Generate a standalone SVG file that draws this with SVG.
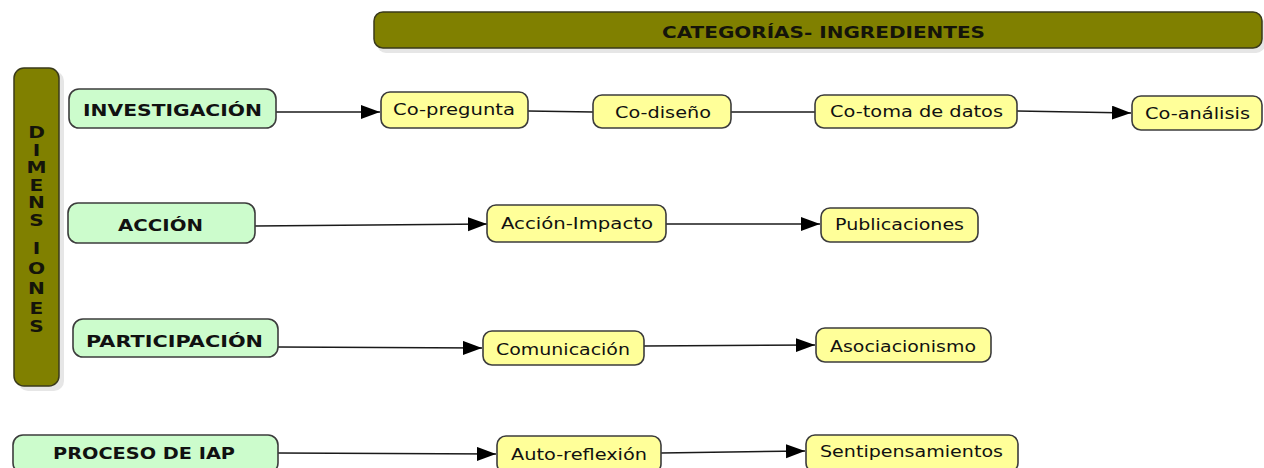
<svg xmlns="http://www.w3.org/2000/svg" width="1264" height="468" viewBox="0 0 1264 468">
<defs>
<style>
.bar{fill:#808000;stroke:#3a3a1a;stroke-width:1.5}
.shadow{fill:#e6e6e6}
.g{fill:#ccfccc;stroke:#3c3c3c;stroke-width:1.6}
.y{fill:#ffff99;stroke:#3c3c3c;stroke-width:1.6}
.tb{font-family:"DejaVu Sans",Verdana,sans-serif;font-weight:bold;font-size:15.5px;fill:#111}
.ty{font-family:"DejaVu Sans",Verdana,sans-serif;font-size:15.5px;fill:#111}
.tt{font-family:"DejaVu Sans",Verdana,sans-serif;font-weight:bold;font-size:16px;fill:#14140a}
.tv{font-family:"DejaVu Sans",Verdana,sans-serif;font-weight:bold;font-size:15.5px;fill:#14140a;text-anchor:middle}
.c{fill:none;stroke:#1a1a1a;stroke-width:1.5}
</style>
<marker id="ah" markerUnits="userSpaceOnUse" markerWidth="20" markerHeight="15" refX="19" refY="7" orient="auto">
<path d="M0,0 L19,7 L0,14 z" fill="#000"/>
</marker>
</defs>
<rect width="1264" height="468" fill="#ffffff"/>

<g id="title">
<rect class="shadow" x="377" y="16" width="888" height="37" rx="9"/>
<rect class="bar" x="374" y="12" width="888" height="36" rx="9"/>
<text class="tt" x="662" y="38" textLength="323" lengthAdjust="spacingAndGlyphs">CATEGORÍAS- INGREDIENTES</text>
</g>

<g id="dimensiones">
<rect class="shadow" x="18" y="71" width="46" height="320" rx="10"/>
<rect class="bar" x="14" y="68" width="45" height="318" rx="10"/>
<g transform="translate(36.5,0) scale(1.3,1) translate(-36.5,0)">
<text class="tv" x="36.5" y="138">D</text>
<text class="tv" x="36.5" y="156">I</text>
<text class="tv" x="36.5" y="173">M</text>
<text class="tv" x="36.5" y="191">E</text>
<text class="tv" x="36.5" y="208">N</text>
<text class="tv" x="36.5" y="226">S</text>
<text class="tv" x="36.5" y="254">I</text>
<text class="tv" x="36.5" y="274">O</text>
<text class="tv" x="36.5" y="294">N</text>
<text class="tv" x="36.5" y="314">E</text>
<text class="tv" x="36.5" y="332">S</text>
</g>
</g>

<g id="connectors">
<line class="c" x1="276" y1="112" x2="380" y2="112" marker-end="url(#ah)"/>
<line class="c" x1="528" y1="111" x2="593" y2="112"/>
<line class="c" x1="731" y1="112" x2="815" y2="112"/>
<line class="c" x1="1017" y1="111" x2="1131" y2="113" marker-end="url(#ah)"/>
<line class="c" x1="255" y1="226" x2="487" y2="224" marker-end="url(#ah)"/>
<line class="c" x1="666" y1="224" x2="820" y2="224" marker-end="url(#ah)"/>
<line class="c" x1="278" y1="347" x2="482" y2="348" marker-end="url(#ah)"/>
<line class="c" x1="644" y1="346" x2="815" y2="345" marker-end="url(#ah)"/>
<line class="c" x1="278" y1="453" x2="496" y2="454" marker-end="url(#ah)"/>
<line class="c" x1="661" y1="453" x2="805" y2="451" marker-end="url(#ah)"/>
</g>

<g id="investigacion">
<rect class="g" x="69" y="89" width="207" height="39" rx="10"/>
<text class="tb" x="83" y="116" textLength="179" lengthAdjust="spacingAndGlyphs">INVESTIGACIÓN</text>
</g>
<g id="accion">
<rect class="g" x="68" y="203" width="187" height="40" rx="10"/>
<text class="tb" x="118" y="231" textLength="85" lengthAdjust="spacingAndGlyphs">ACCIÓN</text>
</g>
<g id="participacion">
<rect class="g" x="73" y="319" width="205" height="38" rx="10"/>
<text class="tb" x="86" y="347" textLength="177" lengthAdjust="spacingAndGlyphs">PARTICIPACIÓN</text>
</g>
<g id="proceso">
<rect class="g" x="13" y="435" width="265" height="38" rx="10"/>
<text class="tb" x="53" y="459" textLength="182" lengthAdjust="spacingAndGlyphs">PROCESO DE IAP</text>
</g>

<g id="co-pregunta">
<rect class="y" x="381" y="92" width="147" height="36" rx="9"/>
<text class="ty" x="393" y="115" textLength="122" lengthAdjust="spacingAndGlyphs">Co-pregunta</text>
</g>
<g id="co-diseno">
<rect class="y" x="593" y="95" width="138" height="33" rx="9"/>
<text class="ty" x="615" y="118" textLength="96" lengthAdjust="spacingAndGlyphs">Co-diseño</text>
</g>
<g id="co-toma">
<rect class="y" x="815" y="95" width="202" height="33" rx="9"/>
<text class="ty" x="830" y="117" textLength="173" lengthAdjust="spacingAndGlyphs">Co-toma de datos</text>
</g>
<g id="co-analisis">
<rect class="y" x="1132" y="96" width="130" height="34" rx="9"/>
<text class="ty" x="1145" y="119" textLength="105" lengthAdjust="spacingAndGlyphs">Co-análisis</text>
</g>
<g id="accion-impacto">
<rect class="y" x="487" y="205" width="179" height="37" rx="9"/>
<text class="ty" x="501" y="229" textLength="152" lengthAdjust="spacingAndGlyphs">Acción-Impacto</text>
</g>
<g id="publicaciones">
<rect class="y" x="821" y="208" width="157" height="34" rx="9"/>
<text class="ty" x="835" y="230" textLength="129" lengthAdjust="spacingAndGlyphs">Publicaciones</text>
</g>
<g id="comunicacion">
<rect class="y" x="483" y="331" width="161" height="34" rx="9"/>
<text class="ty" x="496" y="355" textLength="134" lengthAdjust="spacingAndGlyphs">Comunicación</text>
</g>
<g id="asociacionismo">
<rect class="y" x="816" y="328" width="175" height="34" rx="9"/>
<text class="ty" x="830" y="352" textLength="146" lengthAdjust="spacingAndGlyphs">Asociacionismo</text>
</g>
<g id="auto-reflexion">
<rect class="y" x="497" y="436" width="164" height="37" rx="9"/>
<text class="ty" x="511" y="460" textLength="136" lengthAdjust="spacingAndGlyphs">Auto-reflexión</text>
</g>
<g id="sentipensamientos">
<rect class="y" x="806" y="435" width="212" height="37" rx="9"/>
<text class="ty" x="820" y="457" textLength="183" lengthAdjust="spacingAndGlyphs">Sentipensamientos</text>
</g>
</svg>
